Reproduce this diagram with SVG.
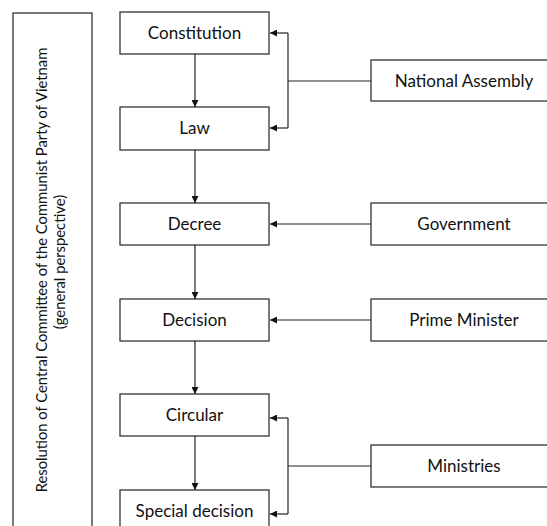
<svg xmlns="http://www.w3.org/2000/svg" width="547" height="526" viewBox="0 0 547 526">
<style>
.box{fill:#fff;stroke:#333;stroke-width:1.3}
.t{font-family:Lato,"Liberation Sans",sans-serif;font-size:17px;fill:#111;text-anchor:middle}
.l{font-family:Lato,"Liberation Sans",sans-serif;font-size:14.8px;fill:#111;text-anchor:middle}
.c{fill:none;stroke:#222;stroke-width:1.2}
</style>
<defs>
<marker id="ah" viewBox="0 0 10 10" refX="10" refY="5" markerWidth="7" markerHeight="7" markerUnits="userSpaceOnUse" orient="auto">
<path d="M0,0 L10,5 L0,10 Z" fill="#111"/>
</marker>
</defs>
<rect width="547" height="526" fill="#fff"/>
<g id="resolution">
<rect class="box" x="13" y="13" width="79" height="530"/>
<text class="l" transform="translate(47,270) rotate(-90)">Resolution of Central Committee of the Communist Party of Vietnam</text>
<text class="l" transform="translate(65,262) rotate(-90)">(general perspective)</text>
</g>
<g id="constitution"><rect class="box" x="120" y="12" width="149" height="42"/><text class="t" x="194.5" y="39">Constitution</text></g>
<g id="law"><rect class="box" x="120" y="107" width="149" height="43"/><text class="t" x="194.5" y="134">Law</text></g>
<g id="decree"><rect class="box" x="120" y="203" width="149" height="42"/><text class="t" x="194.5" y="230">Decree</text></g>
<g id="decision"><rect class="box" x="120" y="299" width="149" height="42"/><text class="t" x="194.5" y="326">Decision</text></g>
<g id="circular"><rect class="box" x="120" y="394" width="149" height="42"/><text class="t" x="194.5" y="421">Circular</text></g>
<g id="special"><rect class="box" x="120" y="490" width="149" height="42"/><text class="t" x="194.5" y="517">Special decision</text></g>
<g id="assembly"><rect class="box" x="371" y="60" width="190" height="41"/><text class="t" x="464" y="87">National Assembly</text></g>
<g id="government"><rect class="box" x="371" y="203" width="190" height="42"/><text class="t" x="464" y="230">Government</text></g>
<g id="pm"><rect class="box" x="371" y="299" width="190" height="42"/><text class="t" x="464" y="326">Prime Minister</text></g>
<g id="ministries"><rect class="box" x="371" y="445" width="190" height="42"/><text class="t" x="464" y="472">Ministries</text></g>
<g id="connectors">
<line class="c" x1="195" y1="54" x2="195" y2="107" marker-end="url(#ah)"/>
<line class="c" x1="195" y1="150" x2="195" y2="203" marker-end="url(#ah)"/>
<line class="c" x1="195" y1="245" x2="195" y2="299" marker-end="url(#ah)"/>
<line class="c" x1="195" y1="341" x2="195" y2="394" marker-end="url(#ah)"/>
<line class="c" x1="195" y1="436" x2="195" y2="490" marker-end="url(#ah)"/>
<line class="c" x1="371" y1="81" x2="288" y2="81"/>
<line class="c" x1="288" y1="33" x2="288" y2="128"/>
<line class="c" x1="288" y1="33" x2="270" y2="33" marker-end="url(#ah)"/>
<line class="c" x1="288" y1="128" x2="270" y2="128" marker-end="url(#ah)"/>
<line class="c" x1="371" y1="224" x2="270" y2="224" marker-end="url(#ah)"/>
<line class="c" x1="371" y1="320" x2="270" y2="320" marker-end="url(#ah)"/>
<line class="c" x1="371" y1="466" x2="288" y2="466"/>
<line class="c" x1="288" y1="418" x2="288" y2="514"/>
<line class="c" x1="288" y1="418" x2="270" y2="418" marker-end="url(#ah)"/>
<line class="c" x1="288" y1="514" x2="270" y2="514" marker-end="url(#ah)"/>
</g>
</svg>
